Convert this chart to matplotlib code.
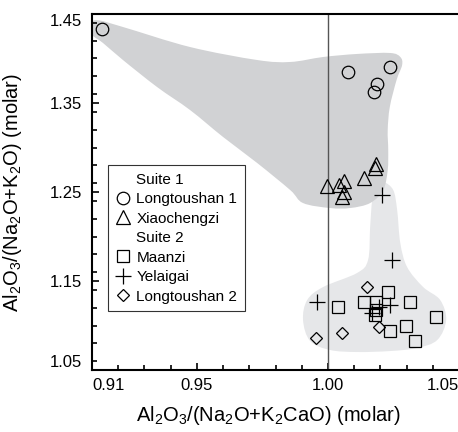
import numpy as np
import matplotlib
matplotlib.use("Agg")
import matplotlib.pyplot as plt
from matplotlib.path import Path
from matplotlib.patches import PathPatch
from matplotlib.lines import Line2D
from matplotlib.ticker import MultipleLocator, FixedLocator

plt.rcParams["font.family"] = ["Liberation Sans", "DejaVu Sans"]
plt.rcParams["mathtext.default"] = "regular"

# ==========================================
# DATA
# ==========================================

# Suite 1
lts1_x = [0.9139, 1.0076, 1.0237, 1.0187, 1.0176]
lts1_y = [1.4337, 1.3850, 1.3908, 1.3713, 1.3620]

xiao_x = [0.9995, 1.0044, 1.0062, 1.0062, 1.0053, 1.0136, 1.0178, 1.0183]
xiao_y = [1.2567, 1.2579, 1.2627, 1.2503, 1.2440, 1.2660, 1.2766, 1.2815]

# Suite 2
maanzi_x = [1.0040, 1.0139, 1.0229, 1.0184, 1.0184, 1.0180, 1.0314,
            1.0412, 1.0297, 1.0235, 1.0333]
maanzi_y = [1.1211, 1.1260, 1.1380, 1.1268, 1.1174, 1.1118, 1.1260,
            1.1092, 1.0998, 1.0938, 1.0830]

yelai_x = [0.9960, 1.0237, 1.0167, 1.0195, 1.0208, 1.0244]
yelai_y = [1.1268, 1.1230, 1.1137, 1.1210, 1.2466, 1.1736]

lts2_x = [1.0149, 1.0053, 0.9955, 1.0193]
lts2_y = [1.1436, 1.0912, 1.0856, 1.0987]

# shaded fields (outline vertices)
field1_x = [0.9080, 0.9119, 0.9218, 0.9474, 0.9730, 0.9856, 0.9982, 1.0111,
            1.0237, 1.0276, 1.0283, 1.0262, 1.0236, 1.0228, 1.0230, 1.0228,
            1.0211, 1.0161, 1.0085, 1.0008, 0.9905, 0.9856, 0.9730, 0.9600,
            0.9474, 0.9348, 0.9218, 0.9142, 0.9100]
field1_y = [1.4370, 1.4430, 1.4354, 1.4129, 1.3983, 1.3961, 1.4017, 1.4051,
            1.4062, 1.4017, 1.3927, 1.3760, 1.3455, 1.3197, 1.2972, 1.2747,
            1.2522, 1.2376, 1.2320, 1.2320, 1.2376, 1.2522, 1.2826, 1.3118,
            1.3421, 1.3680, 1.3983, 1.4174, 1.4264]

field2_x = [1.0211, 1.0249, 1.0264, 1.0276, 1.0302, 1.0363, 1.0428, 1.0451,
            1.0417, 1.0340, 1.0237, 1.0111, 1.0008, 0.9932, 0.9905, 0.9921,
            0.9982, 1.0111, 1.0153, 1.0161, 1.0169, 1.0184]
field2_y = [1.2612, 1.2522, 1.2298, 1.1927, 1.1657, 1.1433, 1.1287, 1.1062,
            1.0837, 1.0747, 1.0713, 1.0702, 1.0725, 1.0826, 1.1062, 1.1287,
            1.1433, 1.1590, 1.1736, 1.2107, 1.2410, 1.2556]

x_ticks = [0.91, 0.95, 1.00, 1.05]
x_tick_labels = ["0.91", "0.95", "1.00", "1.05"]
y_ticks = [1.05, 1.15, 1.25, 1.35, 1.45]
y_tick_labels = ["1.05", "1.15", "1.25", "1.35", "1.45"]


def smooth_closed(xs, ys):
    # closed Catmull-Rom curve turned into cubic Bezier segments
    p = np.column_stack([xs, ys])
    n = len(p)
    verts = [p[0]]
    codes = [Path.MOVETO]
    for i in range(n):
        p0, p1, p2, p3 = p[i - 1], p[i], p[(i + 1) % n], p[(i + 2) % n]
        verts += [p1 + (p2 - p0) / 6, p2 - (p3 - p1) / 6, p2]
        codes += [Path.CURVE4] * 3
    return Path(verts, codes)


# ==========================================
# PLOT
# ==========================================

fig = plt.figure(figsize=(4.58, 4.32), dpi=100)
ax = fig.add_axes([0.2009, 0.1435, 0.8013, 0.8241])

ax.add_patch(PathPatch(smooth_closed(field2_x, field2_y), facecolor="#e6e7e9",
                       edgecolor="none", zorder=1))
ax.add_patch(PathPatch(smooth_closed(field1_x, field1_y), facecolor="#d1d2d4",
                       edgecolor="none", zorder=1))

ax.axvline(1.0, color="#555555", lw=1.0, zorder=2)

mk = dict(ls="none", mfc="none", mec="black", mew=0.9, zorder=3)
ax.plot(lts1_x, lts1_y, marker="o", ms=9, **mk)
ax.plot(xiao_x, xiao_y, marker="^", ms=9.5, **mk)
ax.plot(maanzi_x, maanzi_y, marker="s", ms=8.5, **mk)
ax.plot(yelai_x, yelai_y, marker="+", ms=11, **mk)
ax.plot(lts2_x, lts2_y, marker="D", ms=6.5, **mk)

ax.set_xlim(0.91, 1.05)
ax.set_ylim(1.05, 1.45)

ax.xaxis.set_major_locator(FixedLocator(x_ticks))
ax.set_xticklabels(x_tick_labels)
ax.xaxis.set_minor_locator(MultipleLocator(0.01))
ax.yaxis.set_major_locator(FixedLocator(y_ticks))
ax.set_yticklabels(y_tick_labels)
ax.yaxis.set_minor_locator(MultipleLocator(0.02))

ax.tick_params(which="both", direction="in", width=1.2, labelsize=12,
               top=False, right=False)
ax.tick_params(which="major", length=5)
ax.tick_params(which="minor", length=3.5)
ax.tick_params(axis="x", pad=6)
ax.tick_params(axis="y", pad=7)

xl = ax.get_xticklabels()
xl[0].set_horizontalalignment("left")
xl[-1].set_horizontalalignment("right")
yl = ax.get_yticklabels()
yl[0].set_verticalalignment("bottom")
yl[-1].set_verticalalignment("top")

ax.spines["right"].set_visible(False)
for s in ["left", "bottom", "top"]:
    ax.spines[s].set_linewidth(1.5)

ax.set_xlabel("Al$_2$O$_3$/(Na$_2$O+K$_2$CaO) (molar)", fontsize=14.5)
ax.set_ylabel("Al$_2$O$_3$/(Na$_2$O+K$_2$O) (molar)", fontsize=14.5)
ax.xaxis.set_label_coords(0.48, -0.095)
ax.yaxis.set_label_coords(-0.185, 0.5)

# ==========================================
# LEGEND
# ==========================================

lk = dict(ls="none", mfc="none", mec="black", mew=0.9)
handles = [
    Line2D([], [], ls="none", label="Suite 1"),
    Line2D([], [], marker="o", ms=9, label="Longtoushan 1", **lk),
    Line2D([], [], marker="^", ms=9.5, label="Xiaochengzi", **lk),
    Line2D([], [], ls="none", label="Suite 2"),
    Line2D([], [], marker="s", ms=8.5, label="Maanzi", **lk),
    Line2D([], [], marker="+", ms=11, label="Yelaigai", **lk),
    Line2D([], [], marker="D", ms=6.5, label="Longtoushan 2", **lk),
]
leg = ax.legend(handles=handles, loc="upper left", bbox_to_anchor=(0.0436, 0.576),
                borderaxespad=0, fontsize=11, frameon=True, fancybox=False,
                handlelength=1.0, handletextpad=0.35, borderpad=0.5,
                labelspacing=0.36)
leg.get_frame().set_edgecolor("black")
leg.get_frame().set_linewidth(0.8)

fig.savefig("out.png", dpi=100)
